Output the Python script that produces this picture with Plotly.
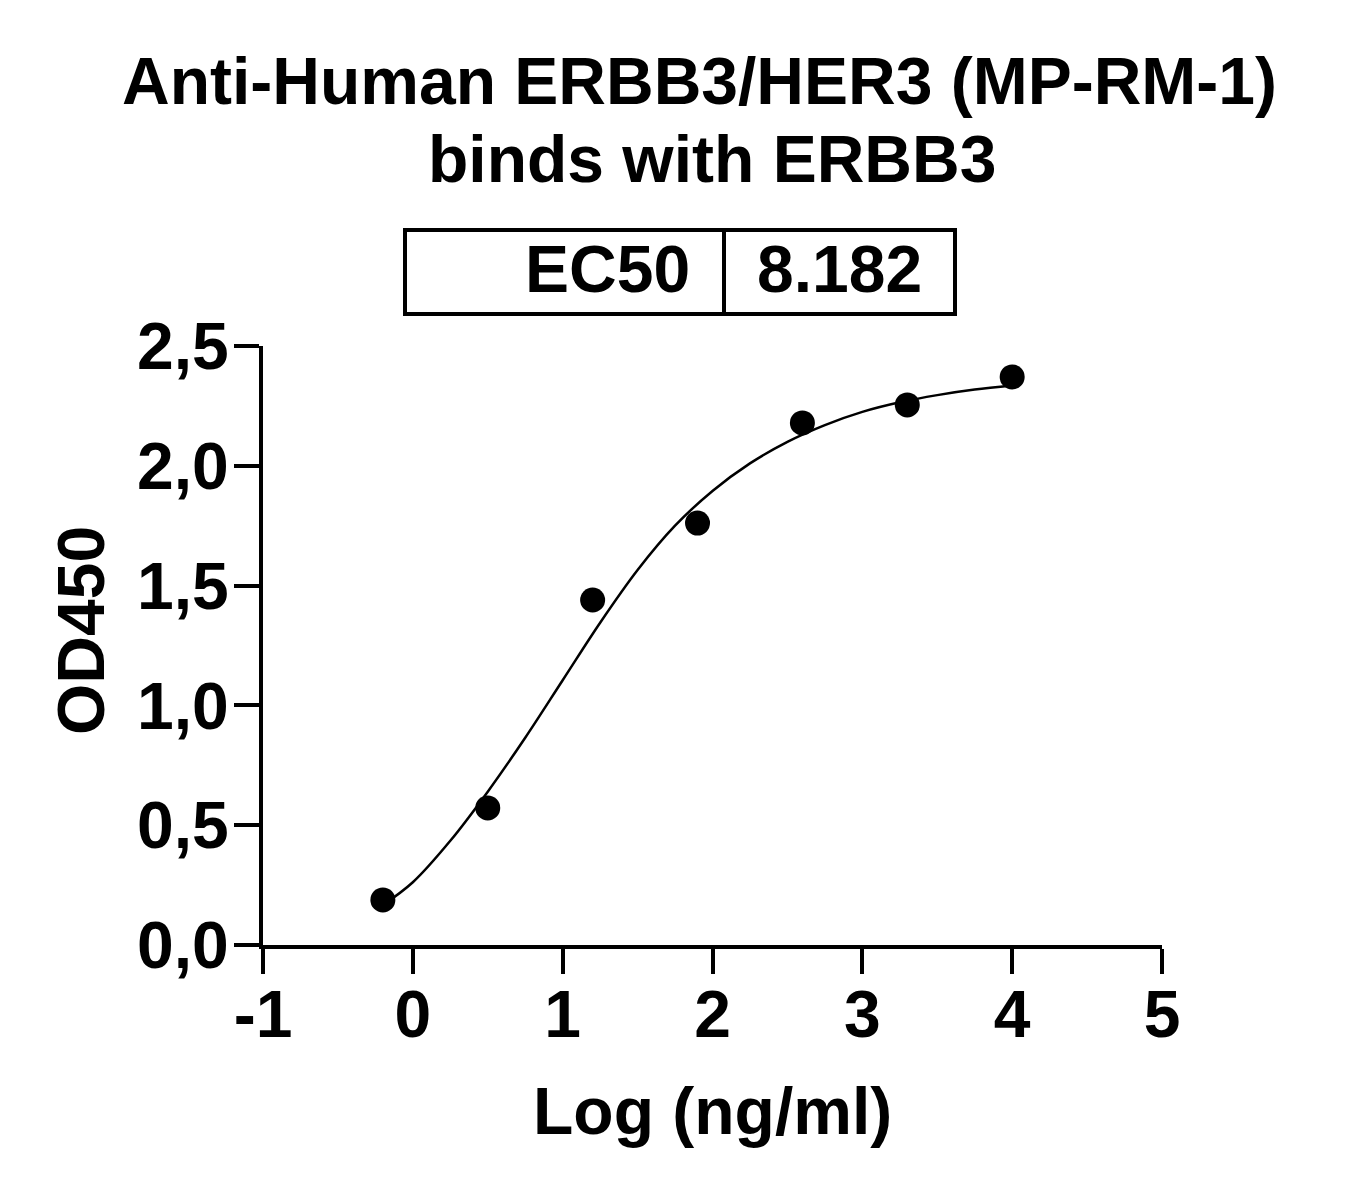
"""Recreate the ERBB3/HER3 binding ELISA curve (OD450 vs log concentration)."""

import plotly.graph_objects as go

# measured points
LOG_CONC = [-0.2, 0.5, 1.2, 1.9, 2.6, 3.3, 4.0]
OD450 = [0.188, 0.572, 1.44, 1.761, 2.179, 2.254, 2.371]

# fitted curve
FIT_X = [-0.2, 0.0, 0.25, 0.5, 0.75, 1.0, 1.25, 1.5, 1.75, 2.0, 2.25, 2.5,
         2.75, 3.0, 3.25, 3.5, 3.75, 4.0]
FIT_Y = [0.167, 0.262, 0.435, 0.640, 0.865, 1.105, 1.345, 1.565, 1.750, 1.895,
         2.010, 2.100, 2.170, 2.225, 2.265, 2.295, 2.318, 2.335]

X_TICKS = [-1, 0, 1, 2, 3, 4, 5]
X_TICK_TEXT = ["-1", "0", "1", "2", "3", "4", "5"]
Y_TICKS = [0, 0.5, 1.0, 1.5, 2.0, 2.5]
Y_TICK_TEXT = ["0,0", "0,5", "1,0", "1,5", "2,0", "2,5"]

EC50_LABEL = "EC50"
EC50_VALUE = "8.182"

FONT = "Liberation Sans, Arial, sans-serif"

# page has an 8px body margin, so the figure sits at (8, 8) on screen
OFF = 8
W, H = 1362 - 2 * OFF, 1194 - 2 * OFF
L, R, T, B = 263, 1162, 346, 945  # plot area, screen pixels


def px(x):
    return (x - L) / (R - L)


def py(y):
    return (B - y) / (B - T)


fig = go.Figure()

fig.add_trace(go.Scatter(
    x=FIT_X, y=FIT_Y, mode="lines",
    line=dict(color="black", width=2.5, shape="spline", smoothing=1.0),
    hoverinfo="skip", showlegend=False,
))
fig.add_trace(go.Scatter(
    x=LOG_CONC, y=OD450, mode="markers",
    marker=dict(color="black", size=25), showlegend=False,
))

# EC50 table above the plot
fig.add_shape(type="rect", xref="paper", yref="paper",
              x0=px(405), x1=px(955), y0=py(314), y1=py(230),
              line=dict(color="black", width=4))
fig.add_shape(type="line", xref="paper", yref="paper",
              x0=px(724), x1=px(724), y0=py(314), y1=py(230),
              line=dict(color="black", width=4))

annotations = [
    dict(text=EC50_LABEL, x=px(692), y=py(269), xanchor="right", yanchor="middle"),
    dict(text=EC50_VALUE, x=px(839), y=py(269), xanchor="center", yanchor="middle"),
    dict(text="Anti-Human ERBB3/HER3 (MP-RM-1)", x=px(699), y=py(81),
         xanchor="center", yanchor="middle"),
    dict(text="binds with ERBB3", x=px(712), y=py(159),
         xanchor="center", yanchor="middle"),
    dict(text="Log (ng/ml)", x=px(712), y=py(1111), xanchor="center", yanchor="middle"),
    dict(text="OD450", x=px(81), y=py(631), xanchor="center", yanchor="middle",
         textangle=-90),
]
for a in annotations:
    a.update(xref="paper", yref="paper", showarrow=False)
    a["font"] = dict(size=66, family=FONT, color="black", weight="bold")

fig.update_layout(
    width=W, height=H,
    margin=dict(l=L - OFF, r=W - (R - OFF), t=T - OFF, b=H - (B - OFF), pad=0),
    paper_bgcolor="white", plot_bgcolor="white",
    font=dict(family=FONT, color="black", weight="bold"),
    annotations=annotations,
    showlegend=False,
)

axis_style = dict(
    showgrid=False, zeroline=False, showline=True, linecolor="black", linewidth=4,
    ticks="outside", ticklen=25, tickwidth=4, tickcolor="black",
    tickfont=dict(size=66, family=FONT, weight="bold", color="black"),
)
fig.update_xaxes(range=[-1, 5], tickvals=X_TICKS, ticktext=X_TICK_TEXT,
                 ticklabelstandoff=-16, **axis_style)
fig.update_yaxes(range=[0, 2.5], tickvals=Y_TICKS, ticktext=Y_TICK_TEXT,
                 ticklabelstandoff=-8, **axis_style)

fig.write_html("out.html")
